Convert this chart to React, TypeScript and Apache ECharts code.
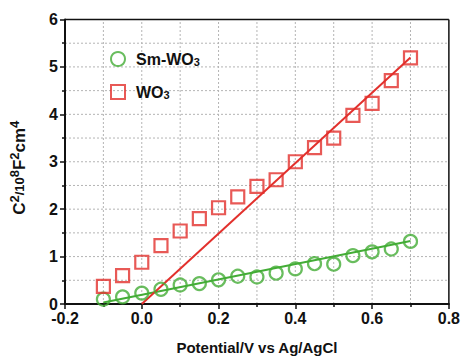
import React, { useEffect, useRef } from "react";
import * as echarts from "echarts";

// Potential (V vs Ag/AgCl) of each measurement
const potentials = [-0.1, -0.05, 0, 0.05, 0.1, 0.15, 0.2, 0.25, 0.3, 0.35, 0.4, 0.45, 0.5, 0.55, 0.6, 0.65, 0.7];
// C^-2 values (10^8 F^-2 cm^4)
const smWO3 = [0.1, 0.15, 0.23, 0.31, 0.4, 0.43, 0.51, 0.585, 0.57, 0.65, 0.74, 0.85, 0.84, 1.02, 1.1, 1.16, 1.32];
const wo3 = [0.37, 0.6, 0.88, 1.23, 1.54, 1.8, 2.03, 2.26, 2.48, 2.62, 3.0, 3.3, 3.5, 3.98, 4.23, 4.71, 5.19];
// Linear fits (endpoints)
const smFitX = [-0.1, 0.7];
const smFitY = [0.03, 1.33];
const wo3FitX = [0.0, 0.7];
const wo3FitY = [0.0, 5.2];
// Axis ranges and dotted grid positions
const xRange = [-0.2, 0.8];
const yRange = [0, 6];
const gridX = [-0.1, 0, 0.1, 0.2, 0.3, 0.4, 0.5, 0.6, 0.7];
const gridY = [0.5, 1, 1.5, 2, 2.5, 3, 3.5, 4, 4.5, 5, 5.5];

const GREEN = "#43ad36";
const RED = "#e2302c";
const FONT = "Liberation Sans, Arial, sans-serif";

export default function App() {
  const ref = useRef<HTMLDivElement>(null);

  useEffect(() => {
    const chart = echarts.init(ref.current!, null, { renderer: "svg" });
    chart.setOption({
      animation: false,
      backgroundColor: "#fff",
      grid: { left: 60, right: 12, top: 19.5, bottom: 50 },
      legend: {
        orient: "vertical",
        left: 105,
        top: 46,
        itemWidth: 14,
        itemHeight: 14,
        itemGap: 17,
        data: [
          { name: "Sm-WO3", icon: "circle", itemStyle: { color: "rgba(0,0,0,0)", borderColor: GREEN, borderWidth: 2 } },
          { name: "WO3", icon: "rect", itemStyle: { color: "rgba(0,0,0,0)", borderColor: RED, borderWidth: 2 } },
        ],
        formatter: (n: string) => `{m|${n.slice(0, -1)}}{s|3}`,
        textStyle: {
          padding: [0, 0, 0, 6],
          rich: {
            m: { fontFamily: FONT, fontWeight: "bold", fontSize: 16, color: "#111" },
            s: { fontFamily: FONT, fontWeight: "bold", fontSize: 11, color: "#111", padding: [5, 0, 0, 0] },
          },
        },
      },
      xAxis: {
        type: "value",
        min: xRange[0],
        max: xRange[1],
        interval: 0.2,
        name: "Potential/V vs Ag/AgCl",
        nameLocation: "middle",
        nameGap: 36,
        nameTextStyle: { fontFamily: FONT, fontWeight: "bold", fontSize: 15, color: "#111" },
        axisLine: { show: true, onZero: false, lineStyle: { color: "#111", width: 2 } },
        axisTick: { show: true, length: 5, lineStyle: { color: "#111", width: 1.5 } },
        minorTick: { show: true, splitNumber: 2, length: 3, lineStyle: { color: "#111", width: 1.5 } },
        axisLabel: {
          fontFamily: FONT,
          fontWeight: "bold",
          fontSize: 16,
          color: "#111",
          margin: 6,
          formatter: (v: number) => v.toFixed(1),
        },
        splitLine: { show: false },
      },
      yAxis: {
        type: "value",
        min: yRange[0],
        max: yRange[1],
        interval: 1,
        name: "{b|C}{p|2}{m|/10}{p|8}{b|F}{p|2}{b|cm}{p|4}",
        nameLocation: "middle",
        nameRotate: 90,
        nameGap: 35,
        nameTextStyle: {
          color: "#111",
          padding: [0, 12, 0, 0],
          rich: {
            b: { fontFamily: FONT, fontWeight: "bold", fontSize: 17, color: "#111" },
            m: { fontFamily: FONT, fontWeight: "bold", fontSize: 13, color: "#111" },
            p: { fontFamily: FONT, fontWeight: "bold", fontSize: 13, color: "#111", padding: [0, 0, 9, 0] },
          },
        },
        axisLine: { show: true, onZero: false, lineStyle: { color: "#111", width: 2 } },
        axisTick: { show: true, length: 5, lineStyle: { color: "#111", width: 1.5 } },
        minorTick: { show: true, splitNumber: 2, length: 3, lineStyle: { color: "#111", width: 1.5 } },
        axisLabel: { fontFamily: FONT, fontWeight: "bold", fontSize: 16, color: "#111", margin: 7 },
        splitLine: { show: false },
      },
      series: [
        {
          name: "Sm-WO3 fit",
          type: "line",
          data: smFitX.map((x, i) => [x, smFitY[i]]),
          showSymbol: false,
          lineStyle: { color: GREEN, width: 2 },
          z: 2,
        },
        {
          name: "WO3 fit",
          type: "line",
          data: wo3FitX.map((x, i) => [x, wo3FitY[i]]),
          showSymbol: false,
          lineStyle: { color: RED, width: 2 },
          z: 2,
        },
        {
          name: "Sm-WO3",
          type: "scatter",
          data: potentials.map((x, i) => [x, smWO3[i]]),
          symbol: "circle",
          symbolSize: 13,
          itemStyle: { color: "rgba(0,0,0,0)", borderColor: GREEN, borderWidth: 2.2 },
          z: 3,
        },
        {
          name: "WO3",
          type: "scatter",
          data: potentials.map((x, i) => [x, wo3[i]]),
          symbol: "rect",
          symbolSize: 13,
          itemStyle: { color: "rgba(0,0,0,0)", borderColor: RED, borderWidth: 2.2 },
          z: 3,
        },
      ],
    });

    // Dotted grid and the top/right frame, positioned through the axes' scales
    const px = (x: number, y: number) => chart.convertToPixel({ gridIndex: 0 }, [x, y]) as number[];
    const seg = (a: number[], b: number[], style: any, z: number) => ({
      type: "line",
      silent: true,
      z,
      shape: { x1: a[0], y1: a[1], x2: b[0], y2: b[1] },
      style,
    });
    const dotStyle = { stroke: "#b4b4b4", lineWidth: 1, lineDash: [2, 2], fill: null };
    const frameStyle = { stroke: "#111", lineWidth: 1.5, fill: null };
    const graphic = [
      ...gridX.map((x) => seg(px(x, yRange[0]), px(x, yRange[1]), dotStyle, -1)),
      ...gridY.map((y) => seg(px(xRange[0], y), px(xRange[1], y), dotStyle, -1)),
      seg(px(xRange[0], yRange[1]), px(xRange[1], yRange[1]), frameStyle, 5),
      seg(px(xRange[1], yRange[0]), px(xRange[1], yRange[1]), frameStyle, 5),
    ];
    chart.setOption({ graphic });

    return () => chart.dispose();
  }, []);

  return (
    <div
      ref={ref}
      style={{ position: "fixed", left: 0, top: 0, width: 463, height: 360, background: "#fff" }}
    />
  );
}
